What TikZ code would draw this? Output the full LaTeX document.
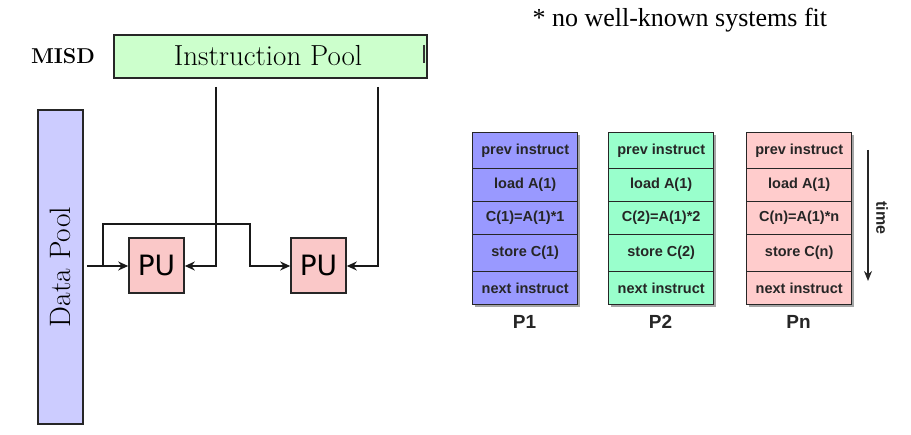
\documentclass[tikz,border=0pt]{standalone}
\usepackage{fontspec}
\newfontfamily\armo{Liberation Sans}
\newfontfamily\tms{Liberation Serif}
\newfontfamily\dvs{DejaVu Sans}
\usetikzlibrary{arrows.meta,shadows}
\definecolor{ipool}{RGB}{204,255,204}
\definecolor{dpool}{RGB}{204,204,255}
\definecolor{pucol}{RGB}{250,200,200}
\definecolor{cola}{RGB}{153,153,255}
\definecolor{colb}{RGB}{153,255,204}
\definecolor{colc}{RGB}{255,204,204}
\tikzset{
  poolbox/.style={draw=black!85, line width=1.6pt, inner sep=0pt, anchor=north west},
  pubox/.style={draw=black!85, line width=1.6pt, fill=pucol, minimum width=55pt, minimum height=55pt, inner sep=0pt, font=\dvs\fontsize{28}{30}\selectfont},
  cell/.style={draw=black!85, line width=1.4pt, inner sep=0pt, font=\armo\bfseries\fontsize{14.5}{16}\selectfont, text=black!85},
  conn/.style={line width=2.6pt, black!90, -{Stealth[length=10pt,width=9pt]}},
  plabel/.style={font=\armo\bfseries\fontsize{19}{21}\selectfont, text=black!85}
}
\begin{document}
\begin{tikzpicture}[x=1pt,y=-1pt]
\useasboundingbox (0,0) rectangle (911,435);
% note
\node[font=\tms\fontsize{26}{28}\selectfont, anchor=west] (note) at (529,20) {* no well-known systems fit};
% MISD
\node[font=\bfseries\fontsize{21.5}{24}\selectfont] (misd) at (63,56) {MISD};
% instruction pool
\node[poolbox, fill=ipool, minimum width=313pt, minimum height=43pt] (ip) at (113,34) {};
\node[font=\fontsize{29}{32}\selectfont] (iptext) at (268,56) {Instruction Pool};
\draw[line width=2pt, black!80] (423.5,45) -- (423.5,63);
% data pool
\node[poolbox, fill=dpool, minimum width=45pt, minimum height=314pt] (dp) at (37,109) {};
\node[font=\fontsize{29.5}{32}\selectfont, rotate=90] (dptext) at (60,267) {Data Pool};
% PUs
\node[pubox] (pu1) at (156.5,265.5) {PU};
\node[pubox] (pu2) at (318.5,265.5) {PU};
\coordinate (dsrc) at (87,266);
\coordinate (br) at (103,266);
\coordinate (i1) at (216,87);
\coordinate (i2) at (378,87);
% data connectors
\draw[conn] (dsrc) -- (pu1.west |- dsrc);
\draw[conn] (br) -- (103,224) -- (250,224) -- (250,266) -- (pu2.west |- dsrc);
% instruction connectors
\draw[conn] (i1) -- (216,266) -- (pu1.east |- dsrc);
\draw[conn] (i2) -- (378,266) -- (pu2.east |- dsrc);
% columns
\foreach \c/\x/\col/\lab/\k in {a/472/cola/1/1, b/608/colb/2/2, c/746/colc/n/n}{
  \fill[black!35] (\x+3,135) rectangle (\x+108,307);
  \node[cell, fill=\col, minimum width=105pt, minimum height=36pt, anchor=north west] (\c1) at (\x,132) {prev instruct};
  \node[cell, fill=\col, minimum width=105pt, minimum height=33pt, anchor=north west] (\c2) at (\x,168) {load A(1)};
  \node[cell, fill=\col, minimum width=105pt, minimum height=33pt, anchor=north west] (\c3) at (\x,201) {C(\lab)=A(1)*\k};
  \node[cell, fill=\col, minimum width=105pt, minimum height=37pt, anchor=north west] (\c4) at (\x,234) {store C(\lab)};
  \node[cell, fill=\col, minimum width=105pt, minimum height=33pt, anchor=north west] (\c5) at (\x,271) {next instruct};
  \node[plabel] (\c lab) at (\x+52.5,322) {P\lab};
}
% time arrow
\coordinate (t0) at (868,150);
\coordinate (t1) at (868,281);
\draw[line width=1.8pt, black!85, -{Stealth[length=10pt,width=8pt]}] (t0) -- (t1);
\node[font=\armo\bfseries\fontsize{16}{18}\selectfont, rotate=-90, text=black!85] (time) at (882,218) {time};
\end{tikzpicture}
\end{document}
